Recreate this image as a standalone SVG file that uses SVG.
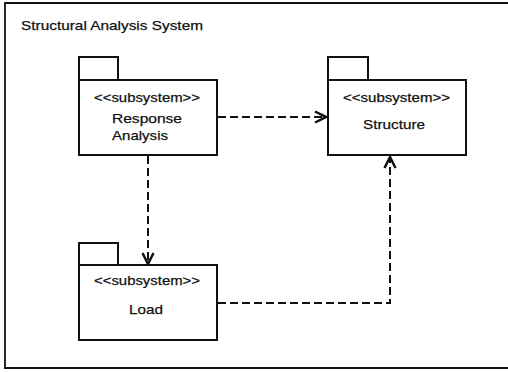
<svg xmlns="http://www.w3.org/2000/svg" width="508" height="372" viewBox="0 0 508 372">
  <style>
    .frame { fill: none; stroke: #111; stroke-width: 1.8; }
    .pkg { fill: #fff; stroke: #111; stroke-width: 2; }
    .txt { font-family: "Liberation Sans", Arial, sans-serif; font-size: 13.5px; fill: #111; stroke: #111; stroke-width: 0.25; }
    .dep { fill: none; stroke: #111; stroke-width: 2; stroke-dasharray: 8 4; }
    .head { fill: none; stroke: #111; stroke-width: 2.5; stroke-linejoin: miter; }
  </style>
  <defs>
    <marker id="open-arrow" markerWidth="14" markerHeight="14" refX="12" refY="7" orient="auto" markerUnits="userSpaceOnUse">
      <polyline class="head" points="1,1.5 12,7 1,12.5"/>
    </marker>
  </defs>

  <rect width="508" height="372" fill="#fff"/>

  <!-- enclosing system boundary -->
  <g id="system">
    <path class="frame" d="M 510 3 H 5 V 368 H 510"/>
    <text class="txt" x="21" y="30" textLength="182" lengthAdjust="spacingAndGlyphs">Structural Analysis System</text>
  </g>

  <g id="response-analysis">
    <rect class="pkg" x="79" y="57" width="39" height="23"/>
    <rect class="pkg" x="79" y="80" width="138" height="75"/>
    <text class="txt" x="94" y="102" textLength="106" lengthAdjust="spacingAndGlyphs">&lt;&lt;subsystem&gt;&gt;</text>
    <text class="txt" x="112" y="123" textLength="70" lengthAdjust="spacingAndGlyphs">Response</text>
    <text class="txt" x="112" y="140" textLength="56" lengthAdjust="spacingAndGlyphs">Analysis</text>
  </g>

  <g id="structure">
    <rect class="pkg" x="328" y="57" width="40" height="23"/>
    <rect class="pkg" x="328" y="80" width="138" height="75"/>
    <text class="txt" x="343" y="102" textLength="107" lengthAdjust="spacingAndGlyphs">&lt;&lt;subsystem&gt;&gt;</text>
    <text class="txt" x="363" y="129" textLength="62" lengthAdjust="spacingAndGlyphs">Structure</text>
  </g>

  <g id="load">
    <rect class="pkg" x="79" y="243" width="39" height="22"/>
    <rect class="pkg" x="79" y="265" width="138" height="75"/>
    <text class="txt" x="94" y="285" textLength="106" lengthAdjust="spacingAndGlyphs">&lt;&lt;subsystem&gt;&gt;</text>
    <text class="txt" x="129" y="314" textLength="34" lengthAdjust="spacingAndGlyphs">Load</text>
  </g>

  <g id="connectors">
    <path class="dep" d="M 218 117 H 326" marker-end="url(#open-arrow)"/>
    <path class="dep" d="M 148 156 V 264" marker-end="url(#open-arrow)"/>
    <path class="dep" d="M 218 303 H 390 V 157" marker-end="url(#open-arrow)"/>
  </g>
</svg>
